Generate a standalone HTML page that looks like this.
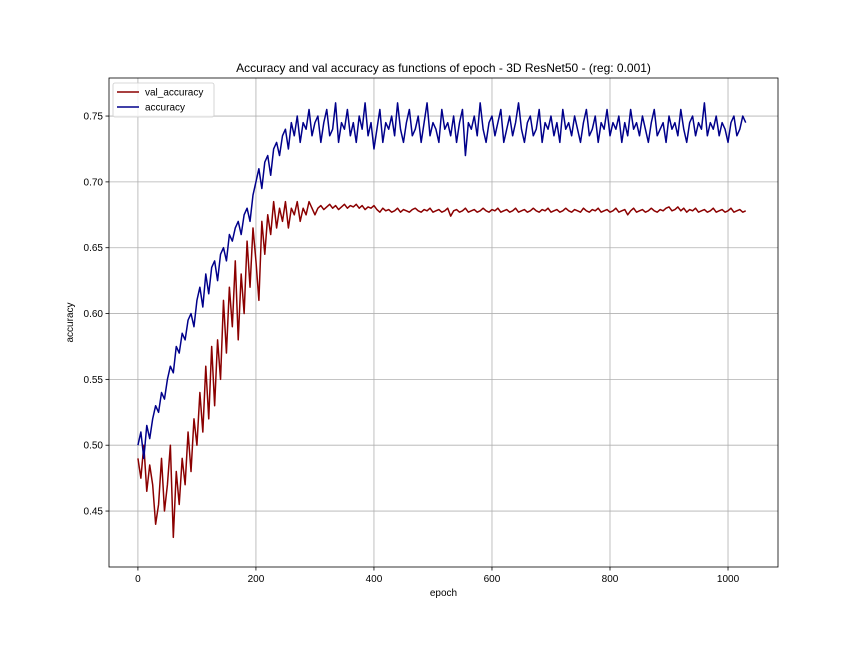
<!DOCTYPE html>
<html><head><meta charset="utf-8"><style>
html,body{margin:0;padding:0;background:#fff;}
svg{display:block;font-family:"Liberation Sans","DejaVu Sans",sans-serif;}
</style></head><body>
<svg id="chart" width="864" height="648" viewBox="0 0 864 648"></svg>
<script>
const stepEpochs = 5;
const accuracy = [0.50,0.51,0.49,0.515,0.505,0.52,0.53,0.525,0.54,0.535,0.55,0.56,0.555,0.575,0.57,0.585,0.58,0.595,0.60,0.59,0.61,
0.62,0.605,0.63,0.615,0.635,0.64,0.625,0.645,0.65,0.64,0.66,0.655,0.665,0.67,0.66,0.675,0.68,0.67,0.69,0.70,
0.71,0.695,0.715,0.72,0.705,0.725,0.73,0.72,0.735,0.74,0.725,0.745,0.735,0.75,0.73,0.745,0.74,0.755,0.735,0.745,
0.75,0.73,0.745,0.755,0.735,0.74,0.76,0.73,0.745,0.74,
0.755,0.735,0.745,0.73,0.75,0.74,0.76,0.735,0.745,0.725,
0.74,0.755,0.73,0.745,0.74,0.75,0.735,0.76,0.74,0.73,
0.745,0.755,0.735,0.74,0.75,0.73,0.745,0.76,0.735,0.745,
0.74,0.73,0.755,0.74,0.745,0.735,0.75,0.73,0.745,0.755,
0.72,0.745,0.74,0.75,0.735,0.76,0.74,0.73,0.745,0.75,
0.735,0.745,0.755,0.73,0.74,0.75,0.735,0.745,0.76,0.74,
0.73,0.745,0.75,0.735,0.74,0.755,0.73,0.745,0.74,0.75,
0.735,0.745,0.73,0.755,0.74,0.745,0.735,0.75,0.74,0.73,
0.745,0.755,0.735,0.74,0.75,0.73,0.745,0.74,0.755,0.735,
0.745,0.74,0.75,0.73,0.745,0.735,0.755,0.74,0.745,0.735,
0.75,0.74,0.73,0.745,0.755,0.735,0.74,0.745,0.73,0.75,
0.74,0.745,0.735,0.755,0.74,0.73,0.745,0.75,0.735,0.745,
0.74,0.76,0.735,0.745,0.74,0.75,0.735,0.745,0.74,0.73,
0.745,0.75,0.735,0.74,0.75,0.745];
const valAccuracy = [0.49,0.475,0.50,0.465,0.485,0.47,0.44,0.455,0.49,0.45,0.47,0.50,0.43,0.48,0.455,0.49,0.47,0.51,0.48,0.52,0.50,
0.54,0.51,0.56,0.52,0.575,0.53,0.58,0.55,0.61,0.57,0.62,0.59,0.64,0.58,0.63,0.60,0.655,0.62,0.665,0.64,
0.61,0.67,0.645,0.675,0.66,0.685,0.665,0.68,0.67,0.685,0.665,0.68,0.675,0.685,0.67,0.68,0.675,0.685,0.68,0.675,
0.68,0.682,0.679,0.681,0.683,0.68,0.682,0.679,0.681,0.683,0.68,0.682,0.681,0.683,0.68,0.682,0.679,0.681,0.68,0.682,
0.679,0.677,0.68,0.678,0.679,0.677,0.678,0.68,0.677,0.679,
0.678,0.677,0.679,0.68,0.678,0.677,0.679,0.678,0.68,0.677,
0.678,0.679,0.677,0.678,0.68,0.674,0.678,0.679,0.677,0.678,
0.68,0.677,0.678,0.679,0.677,0.678,0.68,0.678,0.677,0.679,
0.678,0.68,0.677,0.678,0.679,0.677,0.678,0.68,0.677,0.678,
0.679,0.677,0.678,0.68,0.678,0.677,0.679,0.678,0.68,0.677,
0.678,0.679,0.677,0.678,0.68,0.678,0.677,0.679,0.678,0.677,
0.68,0.678,0.677,0.679,0.678,0.68,0.677,0.678,0.679,0.677,
0.678,0.68,0.677,0.678,0.679,0.675,0.678,0.68,0.677,0.678,
0.679,0.677,0.678,0.68,0.678,0.677,0.679,0.678,0.68,0.681,
0.678,0.679,0.681,0.678,0.68,0.677,0.679,0.678,0.68,0.677,
0.678,0.679,0.677,0.678,0.68,0.677,0.678,0.679,0.677,0.678,
0.68,0.677,0.678,0.679,0.677,0.678];
const xTicks = [0,200,400,600,800,1000];
const yTicks = [0.45,0.50,0.55,0.60,0.65,0.70,0.75];

const L=109,R=778,T=78,B=567;
const xMin=-49,xMax=1084.7,yMin=0.4075,yMax=0.7789;
const sx=v=>L+(v-xMin)/(xMax-xMin)*(R-L);
const sy=v=>B-(v-yMin)/(yMax-yMin)*(B-T);
const NS="http://www.w3.org/2000/svg";
const svg=document.getElementById('chart');
function mk(tag,attrs,parent){const e=document.createElementNS(NS,tag);for(const k in attrs)e.setAttribute(k,attrs[k]);(parent||svg).appendChild(e);return e;}

// grid + ticks
xTicks.forEach(t=>{
  const x=sx(t);
  const g=mk('line',{x1:x,x2:x,y1:T,y2:B,stroke:'#b0b0b0','stroke-width':0.8});
  
  
  mk('line',{x1:x,x2:x,y1:B,y2:B+3.5,stroke:'#000','stroke-width':0.8});
  const tx=mk('text',{x:x,y:B+15,'font-size':10,'text-anchor':'middle',fill:'#000'});
  tx.textContent=t;
  
  
});
yTicks.forEach(t=>{
  const y=sy(t);
  const g=mk('line',{x1:L,x2:R,y1:y,y2:y,stroke:'#b0b0b0','stroke-width':0.8});
  
  
  mk('line',{x1:L-3.5,x2:L,y1:y,y2:y,stroke:'#000','stroke-width':0.8});
  const tx=mk('text',{x:L-6,y:y+3.5,'font-size':10,'text-anchor':'end',fill:'#000'});
  tx.textContent=t.toFixed(2);
  
  
});

function series(arr,color,name){
  const d=arr.map((v,i)=>(i?'L':'M')+sx(i*stepEpochs).toFixed(2)+','+sy(v).toFixed(2)).join('');
  const p=mk('path',{d:d,fill:'none',stroke:color,'stroke-width':1.5,'stroke-linejoin':'round'});
  
  
}
series(valAccuracy,'#8b0000','val-accuracy-line');
series(accuracy,'#00008b','accuracy-line');

const frame=mk('rect',{x:L,y:T,width:R-L,height:B-T,fill:'none',stroke:'#000','stroke-width':0.8});



const title=mk('text',{x:(L+R)/2,y:72,'font-size':12,'text-anchor':'middle',fill:'#000'});
title.textContent='Accuracy and val accuracy as functions of epoch - 3D ResNet50 - (reg: 0.001)';


const xl=mk('text',{x:(L+R)/2,y:596,'font-size':10,'text-anchor':'middle',fill:'#000'});
xl.textContent='epoch';


const yl=mk('text',{x:0,y:0,'font-size':10,'text-anchor':'middle',fill:'#000',transform:'translate(73,'+((T+B)/2)+') rotate(-90)'});
yl.textContent='accuracy';



// legend
const lg=mk('g',{});


mk('rect',{x:113,y:83,width:101,height:34,rx:2,fill:'#fff','fill-opacity':0.8,stroke:'#ccc','stroke-width':0.8},lg);
[['val_accuracy','#8b0000',92],['accuracy','#00008b',107]].forEach(([lab,c,y])=>{
  const e=mk('g',{},lg);
  
  
  mk('line',{x1:117,x2:139,y1:y,y2:y,stroke:c,'stroke-width':1.5},e);
  const t=mk('text',{x:145,y:y+3.5,'font-size':10,fill:'#000'},e);
  t.textContent=lab;
});
</script>
</body></html>
